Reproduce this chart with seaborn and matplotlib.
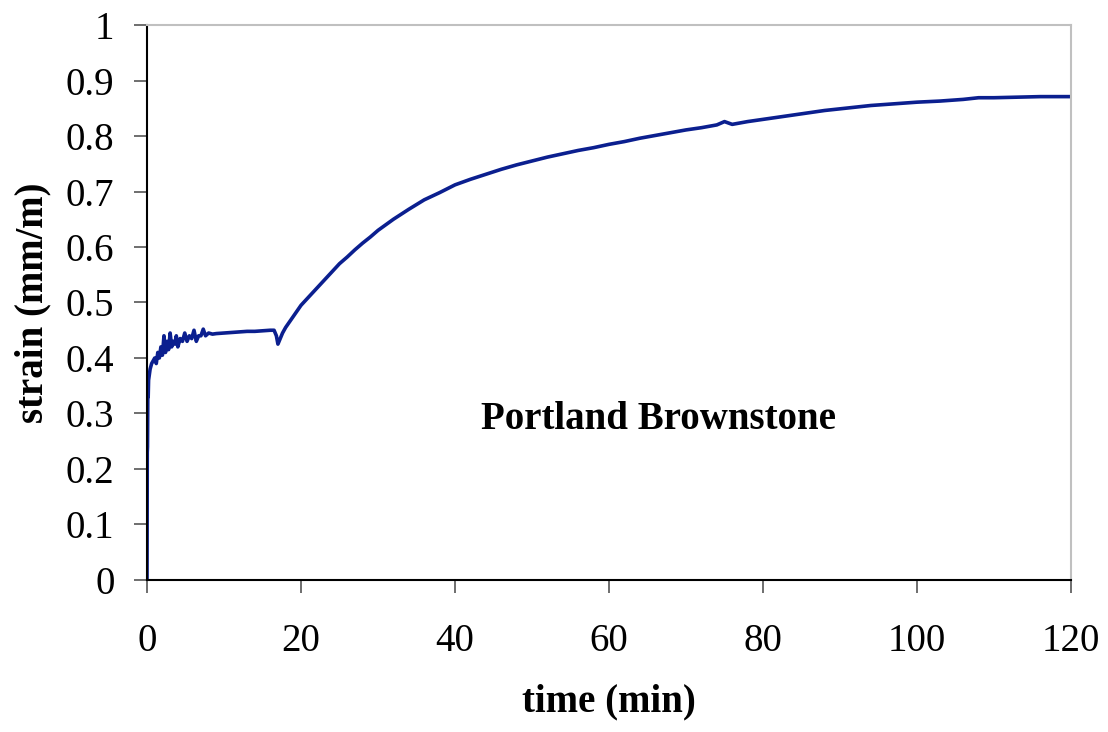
import matplotlib
matplotlib.use("Agg")
import matplotlib.pyplot as plt
import numpy as np
import pandas as pd
import seaborn as sns

# creep curve
time_min = [
    0, 0.03, 0.06, 0.1, 0.15, 0.2, 0.3, 0.4, 0.5, 0.6, 0.8, 1.0, 1.2, 1.4,
    1.6, 1.8, 2.0, 2.2, 2.4, 2.6, 2.8, 3.0, 3.2, 3.4, 3.6, 3.8, 4.0, 4.3,
    4.6, 4.9, 5.2, 5.5, 5.8, 6.1, 6.4, 6.7, 7.0, 7.3, 7.6, 8.0, 8.5, 9, 10,
    11, 12, 13, 14, 15, 16, 16.5, 16.8, 17.0, 17.3, 17.6, 18, 18.5, 19,
    19.5, 20, 21, 22, 23, 24, 25, 26, 27, 28, 29, 30, 32, 34, 36, 38, 40,
    42, 44, 46, 48, 50, 52, 54, 56, 58, 60, 62, 64, 66, 68, 70, 72, 74, 75,
    76, 78, 80, 82, 84, 86, 88, 90, 92, 94, 96, 98, 100, 103, 106, 108,
    110, 113, 116, 118, 120,
]
strain = [
    0, 0.23, 0.24, 0.33, 0.33, 0.36, 0.37, 0.38, 0.385, 0.39, 0.395, 0.40,
    0.39, 0.41, 0.40, 0.42, 0.405, 0.44, 0.41, 0.43, 0.415, 0.445, 0.42,
    0.43, 0.425, 0.44, 0.42, 0.435, 0.43, 0.445, 0.43, 0.44, 0.435, 0.45,
    0.43, 0.44, 0.44, 0.452, 0.44, 0.445, 0.443, 0.444, 0.445, 0.446,
    0.447, 0.448, 0.448, 0.449, 0.45, 0.45, 0.44, 0.425, 0.435, 0.445,
    0.455, 0.465, 0.475, 0.485, 0.495, 0.51, 0.525, 0.54, 0.555, 0.57,
    0.582, 0.595, 0.607, 0.618, 0.63, 0.65, 0.668, 0.685, 0.698, 0.712,
    0.722, 0.731, 0.74, 0.748, 0.755, 0.762, 0.768, 0.774, 0.779, 0.785,
    0.79, 0.796, 0.801, 0.806, 0.811, 0.815, 0.82, 0.826, 0.821, 0.826,
    0.83, 0.834, 0.838, 0.842, 0.846, 0.849, 0.852, 0.855, 0.857, 0.859,
    0.861, 0.863, 0.866, 0.869, 0.869, 0.87, 0.871, 0.871, 0.871,
]
x_ticks = [0, 20, 40, 60, 80, 100, 120]
y_ticks = [0, 0.1, 0.2, 0.3, 0.4, 0.5, 0.6, 0.7, 0.8, 0.9, 1]
y_tick_labels = ["0", "0.1", "0.2", "0.3", "0.4", "0.5", "0.6", "0.7", "0.8", "0.9", "1"]

df = pd.DataFrame({"time": time_min, "strain": strain})

sns.set_style("white")
plt.rcParams["font.family"] = ["Liberation Serif", "DejaVu Serif"]
plt.rcParams["text.color"] = "black"
plt.rcParams["axes.labelcolor"] = "black"

fig = plt.figure(figsize=(11.08, 7.32), dpi=100)
ax = fig.add_axes([0.1327, 0.2077, 0.8339, 0.7581])

sns.lineplot(data=df, x="time", y="strain", ax=ax, sort=False, estimator=None,
             color="#0b1f8f", linewidth=2.6)

ax.set_xlim(0, 120)
ax.set_ylim(0, 1)
ax.set_xticks(x_ticks)
ax.set_yticks(y_ticks)
ax.set_yticklabels(y_tick_labels)
# seaborn's white style switches the tick marks off, turn them back on
ax.tick_params(axis="both", bottom=True, left=True, direction="out",
               length=9.5, width=1.2, color="#555555", labelcolor="black",
               labelsize=28)
ax.tick_params(axis="x", pad=21.5)
ax.tick_params(axis="y", pad=14)

for side in ["top", "right"]:
    ax.spines[side].set_color("#c0c0c0")
    ax.spines[side].set_linewidth(1.5)
for side in ["left", "bottom"]:
    ax.spines[side].set_color("black")
    ax.spines[side].set_linewidth(1.5)

ax.set_xlabel("time (min)", fontsize=28, fontweight="bold", labelpad=17)
ax.set_ylabel("strain (mm/m)", fontsize=28, fontweight="bold", labelpad=10)
ax.text(66.4, 0.29, "Portland Brownstone", fontsize=28, fontweight="bold",
        ha="center", va="center")

fig.savefig("out.png", dpi=100)
